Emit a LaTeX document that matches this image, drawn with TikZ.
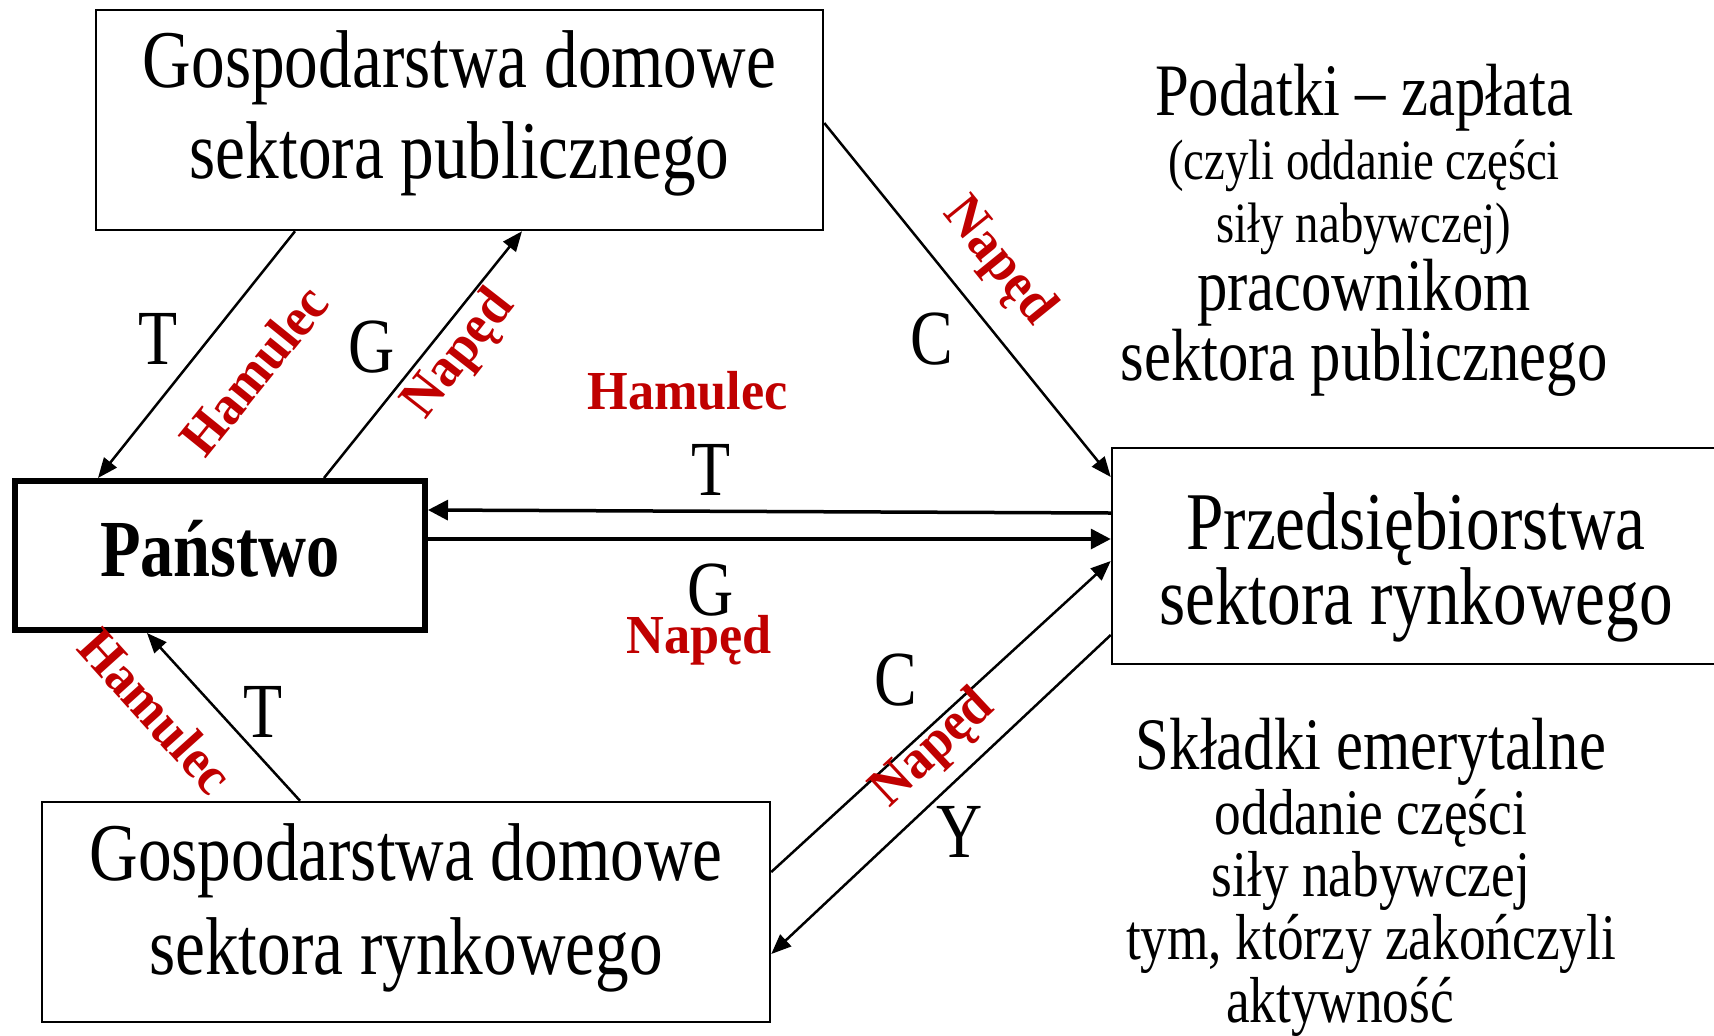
\documentclass[tikz,border=0pt]{standalone}
\usepackage{fontspec}
\setmainfont[FakeStretch=0.82]{Liberation Serif}
\newfontfamily\lblfamily[FakeStretch=0.95]{Liberation Serif}
\usetikzlibrary{arrows.meta}
\definecolor{lblred}{RGB}{192,0,0}
\tikzset{
  box/.style={draw, line width=1.25pt, align=center},
  conn/.style={line width=1.25pt, -{Triangle[length=10pt,width=8pt]}},
  hconn/.style={line width=1.75pt, -{Triangle[length=10pt,width=10pt]}},
  letter/.style={font=\fontsize{39pt}{39pt}\selectfont, inner sep=0pt},
  redlbl/.style={font=\lblfamily\bfseries\fontsize{27.5pt}{27.5pt}\selectfont, text=lblred, inner sep=0pt},
  bigline/.style={font=\fontsize{37pt}{37pt}\selectfont, anchor=base, inner sep=0pt},
  smallline/.style={font=\fontsize{28.5pt}{28.5pt}\selectfont, anchor=base, inner sep=0pt},
  midline/.style={font=\fontsize{32.5pt}{32.5pt}\selectfont, anchor=base, inner sep=0pt},
}
\begin{document}
\begin{tikzpicture}[x=0.5pt,y=-0.5pt]
\useasboundingbox[fill=white] (0,0) rectangle (1714,1035);
% boxes
\node[box, minimum width=363.5pt, minimum height=110pt, text height=58pt, text depth=0pt,
  font=\fontsize{41pt}{45.5pt}\selectfont] (hp) at (459.5,120) {Gospodarstwa domowe\\sektora publicznego};
\node[box, line width=3pt, minimum width=205pt, minimum height=74.5pt, text height=20.5pt, text depth=0pt,
  font=\bfseries\fontsize{40.5pt}{40.5pt}\selectfont] (st) at (220,555.5) {Państwo};
\node[box, minimum width=304pt, minimum height=108pt, text height=68pt, text depth=0pt,
  font=\fontsize{41pt}{37.5pt}\selectfont] (pr) at (1416,556) {Przedsiębiorstwa\\sektora rynkowego};
\node[box, minimum width=364pt, minimum height=110pt, text height=62pt, text depth=0pt,
  font=\fontsize{41pt}{47pt}\selectfont] (hm) at (406,912) {Gospodarstwa domowe\\sektora rynkowego};
% connectors
\draw[conn] (295,0 |- hp.south) -- (98,0 |- st.north);
\draw[conn] (324,0 |- st.north) -- (522,0 |- hp.south);
\draw[conn] (hp.east |- 0,123) -- (pr.west |- 0,477);
\draw[hconn] (pr.west |- 0,513) -- (st.east |- 0,510);
\draw[hconn] (st.east |- 0,539) -- (pr.west |- 0,539);
\draw[conn] (300,0 |- hm.north) -- (147,0 |- st.south);
\draw[conn] (hm.east |- 0,872) -- (pr.west |- 0,561);
\draw[conn] (pr.west |- 0,635) -- (hm.east |- 0,954);
% flow letters
\node[letter] (t1) at (158,339) {T};
\node[letter] (g1) at (372,347) {G};
\node[letter] (c1) at (932,339) {C};
\node[letter] (th) at (711,470) {T};
\node[letter] (gh) at (711,590) {G};
\node[letter] (t6) at (263,712) {T};
\node[letter] (c7) at (896,680) {C};
\node[letter] (y8) at (960,832) {Y};
% red labels
\node[redlbl, rotate=51] (hamA) at (254,370) {Hamulec};
\node[redlbl, rotate=52] (napA) at (460,355) {Napęd};
\node[redlbl, rotate=-51] (napB) at (998,262) {Napęd};
\node[redlbl, anchor=base] (hamH) at (687.5,409) {Hamulec};
\node[redlbl, anchor=base] (napH) at (699,653) {Napęd};
\node[redlbl, rotate=-48] (hamC) at (156,711) {Hamulec};
\node[redlbl, rotate=43] (napC) at (934,749) {Napęd};
% text blocks
\node[bigline] (pod1) at (1364,115) {Podatki – zapłata};
\node[smallline] (pod2) at (1364,179) {(czyli oddanie części};
\node[smallline] (pod3) at (1364,242) {siły nabywczej)};
\node[bigline] (pod4) at (1364,310) {pracownikom};
\node[bigline] (pod5) at (1364,380) {sektora publicznego};
\node[bigline] (skl1) at (1371,769) {Składki emerytalne};
\node[midline] (skl2) at (1371,834) {oddanie części};
\node[midline] (skl3) at (1371,896) {siły nabywczej};
\node[midline] (skl4) at (1371,959) {tym, którzy zakończyli};
\node[midline] (skl5) at (1340,1022) {aktywność};
\end{tikzpicture}
\end{document}
